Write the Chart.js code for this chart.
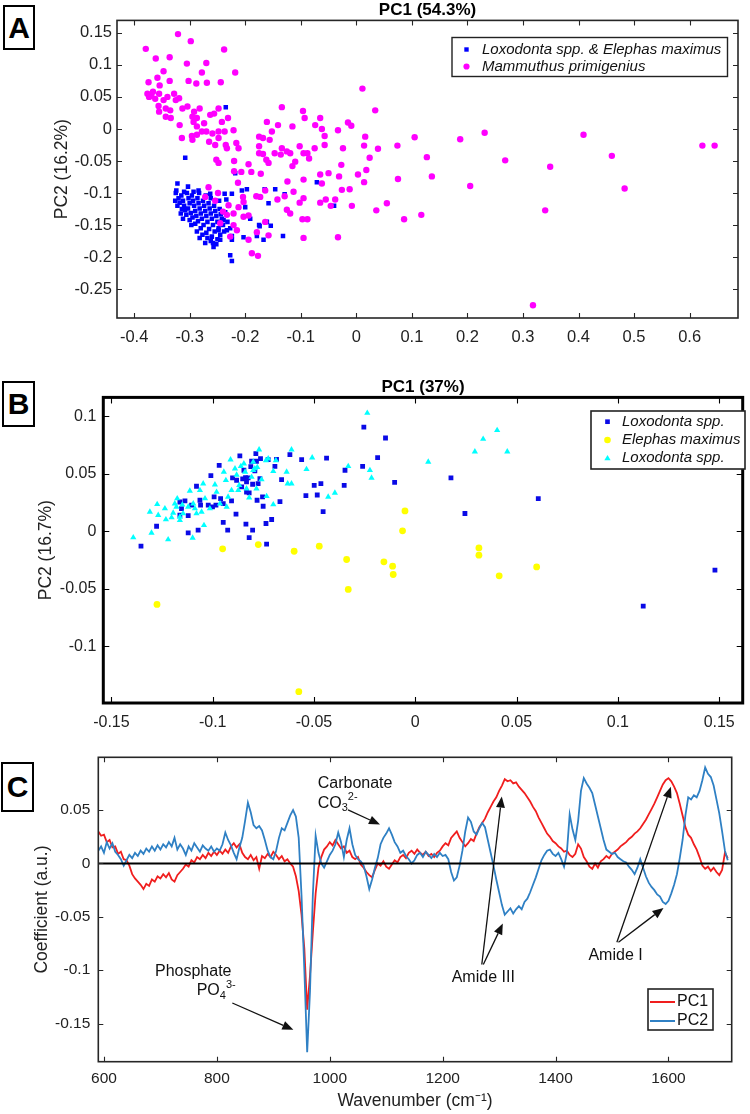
<!DOCTYPE html>
<html><head><meta charset="utf-8">
<script src="https://cdn.jsdelivr.net/npm/chart.js@4.4.1/dist/chart.umd.min.js"></script>
<style>
body{margin:0;background:#fff;width:750px;height:1114px;position:relative;overflow:hidden;font-family:"Liberation Sans",Arial,sans-serif}
canvas{position:absolute;left:0}
.lbl{position:absolute;border:2px solid #000;box-sizing:border-box;font:bold 30px "Liberation Sans",Arial,sans-serif;display:flex;align-items:center;justify-content:center;background:#fff;color:#000}
</style></head><body>
<div class="lbl" style="left:3px;top:5px;width:32px;height:45px">A</div>
<div class="lbl" style="left:2px;top:381px;width:33px;height:46px">B</div>
<div class="lbl" style="left:1px;top:762px;width:33px;height:50px">C</div>
<canvas id="cA" width="750" height="345" style="top:0"></canvas>
<canvas id="cB" width="750" height="359" style="top:376px"></canvas>
<canvas id="cC" width="750" height="374" style="top:740px"></canvas>
<script>
// ---------------- DATA ----------------
// Panel A
const aTitle = 'PC1 (54.3%)';
const aYLabel = 'PC2 (16.2%)';
const aXTicks = [-0.4,-0.3,-0.2,-0.1,0,0.1,0.2,0.3,0.4,0.5,0.6];
const aYTicks = [-0.25,-0.2,-0.15,-0.1,-0.05,0,0.05,0.1,0.15];
const aLoxElephas = [
[-0.325,-0.100],[-0.320,-0.108],[-0.318,-0.115],[-0.322,-0.120],[-0.315,-0.104],[-0.312,-0.112],[-0.310,-0.120],[-0.308,-0.127],[-0.314,-0.125],[-0.305,-0.100],
[-0.302,-0.108],[-0.300,-0.116],[-0.303,-0.124],[-0.298,-0.131],[-0.306,-0.134],[-0.296,-0.104],[-0.294,-0.112],[-0.292,-0.120],[-0.290,-0.128],[-0.295,-0.138],
[-0.288,-0.136],[-0.300,-0.142],[-0.286,-0.108],[-0.284,-0.116],[-0.282,-0.124],[-0.280,-0.132],[-0.285,-0.144],[-0.278,-0.140],[-0.290,-0.148],[-0.276,-0.112],
[-0.274,-0.120],[-0.272,-0.128],[-0.270,-0.136],[-0.275,-0.150],[-0.268,-0.145],[-0.280,-0.155],[-0.266,-0.116],[-0.264,-0.124],[-0.262,-0.132],[-0.260,-0.140],
[-0.265,-0.156],[-0.258,-0.150],[-0.270,-0.162],[-0.256,-0.120],[-0.254,-0.128],[-0.252,-0.136],[-0.250,-0.145],[-0.255,-0.160],[-0.248,-0.155],[-0.260,-0.168],
[-0.246,-0.125],[-0.244,-0.133],[-0.242,-0.140],[-0.245,-0.165],[-0.262,-0.175],[-0.268,-0.170],[-0.250,-0.172],[-0.240,-0.150],[-0.236,-0.130],[-0.238,-0.160],
[-0.310,-0.098],[-0.293,-0.098],[-0.283,-0.100],[-0.271,-0.104],[-0.316,-0.132],[-0.297,-0.150],[-0.287,-0.160],[-0.277,-0.165],[-0.258,-0.178],[-0.232,-0.145],
[-0.230,-0.120],[-0.234,-0.110],[-0.326,-0.112],[-0.312,-0.140],[-0.282,-0.170],[-0.272,-0.178],[-0.252,-0.180],[-0.262,-0.108],[-0.247,-0.112],[-0.303,-0.090],
[-0.308,-0.045],[-0.322,-0.085],[-0.324,-0.096],[-0.284,-0.096],[-0.263,-0.101],[-0.237,-0.101],[-0.224,-0.101],[-0.218,-0.069],[-0.206,-0.096],[-0.197,-0.094],
[-0.200,-0.122],[-0.191,-0.140],[-0.174,-0.152],[-0.161,-0.145],[-0.158,-0.116],[-0.165,-0.094],[-0.146,-0.094],[-0.129,-0.102],[-0.179,-0.167],[-0.167,-0.173],
[-0.132,-0.167],[-0.203,-0.169],[-0.224,-0.167],[-0.224,-0.173],[-0.227,-0.197],[-0.224,-0.206],[-0.227,-0.155],[-0.233,-0.158],[-0.245,-0.173],[-0.257,-0.184],
[-0.239,-0.142],[-0.248,-0.158],[-0.071,-0.083],[-0.235,0.034],[-0.040,-0.120],[-0.154,-0.151],[-0.175,-0.150]
];
const aMammuthus = [
[-0.379,0.125],[-0.321,0.148],[-0.298,0.137],[-0.238,0.124],[-0.361,0.110],[-0.336,0.112],[-0.347,0.090],[-0.305,0.102],[-0.270,0.103],[-0.278,0.088],
[-0.218,0.088],[-0.374,0.073],[-0.358,0.080],[-0.336,0.075],[-0.302,0.075],[-0.269,0.072],[-0.244,0.073],[-0.354,0.068],[-0.366,0.058],[-0.373,0.050],
[-0.376,0.055],[-0.369,0.052],[-0.362,0.047],[-0.355,0.055],[-0.347,0.045],[-0.340,0.050],[-0.356,0.036],[-0.343,0.032],[-0.355,0.027],[-0.335,0.029],
[-0.325,0.045],[-0.319,0.048],[-0.313,0.032],[-0.328,0.055],[-0.288,0.071],[-0.334,0.017],[-0.343,0.019],[-0.318,0.006],[-0.304,0.035],[-0.292,0.027],
[-0.287,0.017],[-0.293,0.011],[-0.295,0.019],[-0.282,0.032],[-0.274,0.009],[-0.263,0.022],[-0.270,-0.004],[-0.248,0.032],[-0.256,0.024],[-0.242,0.011],
[-0.231,0.017],[-0.287,0.004],[-0.278,-0.004],[-0.259,-0.007],[-0.248,-0.004],[-0.237,-0.004],[-0.221,-0.002],[-0.287,-0.009],[-0.295,-0.017],[-0.314,-0.014],
[-0.296,-0.011],[-0.248,-0.014],[-0.235,-0.025],[-0.233,-0.030],[-0.254,-0.025],[-0.265,-0.020],[-0.216,-0.022],[-0.212,-0.030],[-0.252,-0.048],[-0.248,-0.053],
[-0.220,-0.050],[-0.207,-0.067],[-0.220,-0.066],[-0.213,-0.084],[-0.194,-0.055],[-0.189,-0.067],[-0.172,-0.070],[-0.175,-0.027],[-0.168,-0.014],[-0.175,-0.012],
[-0.161,0.011],[-0.152,-0.004],[-0.156,-0.017],[-0.168,-0.039],[-0.162,-0.048],[-0.175,-0.038],[-0.141,0.006],[-0.134,0.034],[-0.147,-0.038],[-0.158,-0.053],
[-0.134,-0.030],[-0.136,-0.040],[-0.125,-0.035],[-0.115,0.004],[-0.119,-0.038],[-0.110,-0.051],[-0.102,-0.027],[-0.096,0.028],[-0.093,0.017],[-0.074,0.006],
[-0.065,0.017],[-0.062,0.000],[-0.057,-0.011],[-0.057,-0.025],[-0.075,-0.030],[-0.088,-0.038],[-0.085,-0.046],[-0.115,-0.058],[-0.095,-0.079],[-0.124,-0.082],
[-0.113,-0.098],[-0.129,-0.105],[-0.142,-0.110],[-0.125,-0.126],[-0.102,-0.115],[-0.097,-0.141],[-0.088,-0.141],[-0.095,-0.170],[-0.065,-0.071],[-0.050,-0.069],
[-0.031,-0.074],[-0.027,-0.056],[-0.065,-0.115],[-0.055,-0.110],[-0.046,-0.120],[-0.026,-0.095],[-0.012,-0.094],[-0.038,-0.110],[-0.008,-0.120],[-0.033,-0.169],
[-0.015,0.010],[-0.009,0.005],[-0.033,-0.002],[-0.024,-0.030],[0.003,-0.071],[0.011,0.063],[0.034,0.029],[0.016,-0.012],[0.014,-0.026],[0.024,-0.045],
[0.039,-0.031],[0.018,-0.064],[0.014,-0.083],[0.036,-0.127],[0.055,-0.116],[0.074,-0.026],[0.075,-0.078],[0.105,-0.013],[0.127,-0.044],[0.136,-0.074],
[0.086,-0.141],[0.117,-0.134],[0.187,-0.016],[0.205,-0.089],[0.231,-0.006],[0.268,-0.049],[0.318,-0.275],[0.340,-0.127],[0.349,-0.059],[0.409,-0.009],
[0.460,-0.042],[0.483,-0.093],[0.623,-0.026],[0.645,-0.026],
[-0.266,-0.091],[-0.272,-0.106],[-0.249,-0.100],[-0.254,-0.112],[-0.245,-0.147],[-0.240,-0.129],[-0.230,-0.119],[-0.233,-0.134],[-0.221,-0.132],[-0.212,-0.122],
[-0.204,-0.106],[-0.203,-0.137],[-0.194,-0.135],[-0.203,-0.114],[-0.180,-0.105],[-0.173,-0.106],[-0.164,-0.096],[-0.095,-0.108],[-0.119,-0.132],[-0.164,-0.145],
[-0.158,-0.166],[-0.179,-0.161],[-0.215,-0.158],[-0.221,-0.150],[-0.227,-0.168],[-0.194,-0.173],[-0.188,-0.194],[-0.177,-0.198],[-0.062,-0.085],[-0.095,-0.038]
];

// Panel B
const bTitle = 'PC1 (37%)';
const bYLabel = 'PC2 (16.7%)';
const bXTicks = [-0.15,-0.1,-0.05,0,0.05,0.1,0.15];
const bYTicks = [-0.1,-0.05,0,0.05,0.1];
const bLoxodontaA = [
[-0.1354,-0.0130],[-0.1277,0.0043],[-0.1121,-0.0015],[-0.1072,0.0009],[-0.1162,0.0139],[-0.1121,0.0136],[-0.1154,0.0197],[-0.1162,0.0254],[-0.1137,0.0263],[-0.1104,0.0226],
[-0.1080,0.0391],[-0.1063,0.0269],[-0.1060,0.0226],[-0.1022,0.0226],[-0.1009,0.0483],[-0.0993,0.0298],[-0.1001,0.0211],[-0.0984,0.0226],[-0.0968,0.0573],[-0.0961,0.0284],
[-0.0948,0.0076],[-0.0926,0.0009],[-0.0948,0.0240],[-0.0907,0.0263],[-0.0902,0.0463],[-0.0885,0.0148],[-0.0882,0.0443],[-0.0866,0.0654],[-0.0857,0.0385],[-0.0846,0.0530],
[-0.0838,0.0466],[-0.0833,0.0341],[-0.0820,0.0333],[-0.0825,0.0463],[-0.0836,0.0061],[-0.0820,-0.0055],[-0.0803,0.0009],[-0.0808,0.0608],[-0.0787,0.0674],[-0.0784,0.0608],
[-0.0781,0.0269],[-0.0776,0.0414],[-0.0767,0.0457],[-0.0764,0.0631],[-0.0754,0.0298],[-0.0751,0.0217],[-0.0737,0.0067],[-0.0734,-0.0113],[-0.0726,0.0622],[-0.0709,0.0102],
[-0.0693,0.0564],[-0.0685,0.0625],[-0.0668,0.0258],[-0.0660,0.0449],[-0.0619,0.0666],[-0.0561,0.0622],[-0.0540,0.0310],[-0.0499,0.0399],[-0.0484,0.0315],[-0.0466,0.0414],
[-0.0455,0.0171],[-0.0438,0.0636],[-0.0351,0.0399],[-0.0347,0.0530],[-0.0260,0.0564],[-0.0254,0.0905],[-0.0186,0.0640],[-0.0147,0.0810],[-0.0102,0.0425],[-0.0852,0.0455],
[-0.0833,0.0428],[-0.0803,0.0408],[-0.0792,0.0524],[-0.0812,0.0561],[0.0176,0.0463],[0.0245,0.0154],[0.0607,0.0284],[0.1125,-0.0651],[0.1479,-0.0339]
];
const bElephas = [
[-0.1275,-0.0636],[-0.0951,-0.0153],[-0.0775,-0.0116],[-0.0598,-0.0174],[-0.0575,-0.1395],[-0.0474,-0.0130],[-0.0339,-0.0246],[-0.0331,-0.0506],[-0.0155,-0.0266],[-0.0112,-0.0304],
[-0.0109,-0.0376],[-0.0063,0.0003],[-0.0051,0.0176],[0.0314,-0.0145],[0.0314,-0.0208],[0.0414,-0.0388],[0.0599,-0.0310]
];
const bLoxodontaB = [
[-0.1392,-0.0055],[-0.1302,-0.0015],[-0.1220,-0.0072],[-0.1099,-0.0058],[-0.1310,0.0168],[-0.1269,0.0139],[-0.1274,0.0234],[-0.1236,0.0197],[-0.1231,0.0102],[-0.1187,0.0240],
[-0.1195,0.0159],[-0.1175,0.0284],[-0.1150,0.0230],[-0.1146,0.0154],[-0.1162,0.0095],[-0.1113,0.0350],[-0.1096,0.0240],[-0.1080,0.0154],[-0.1063,0.0356],[-0.1038,0.0284],
[-0.1047,0.0414],[-0.1043,0.0052],[-0.1014,0.0197],[-0.0989,0.0405],[-0.0981,0.0341],[-0.0964,0.0240],[-0.0945,0.0515],[-0.0935,0.0443],[-0.0931,0.0211],[-0.0912,0.0622],
[-0.0907,0.0356],[-0.0890,0.0544],[-0.0882,0.0490],[-0.0869,0.0399],[-0.0861,0.0564],[-0.0846,0.0587],[-0.0840,0.0515],[-0.0833,0.0370],[-0.0820,0.0292],[-0.0808,0.0471],
[-0.0800,0.0530],[-0.0792,0.0545],[-0.0784,0.0370],[-0.0771,0.0709],[-0.0759,0.0449],[-0.0737,0.0616],[-0.0734,0.0304],[-0.0701,0.0521],[-0.0701,0.0232],[-0.0688,0.0616],
[-0.0635,0.0515],[-0.0630,0.0414],[-0.0611,0.0709],[-0.0611,0.0414],[-0.0537,0.0538],[-0.0509,0.0640],[-0.0430,0.0298],[-0.0397,0.0333],[-0.0331,0.0564],[-0.0237,0.1027],
[-0.0224,0.0530],[-0.0216,0.0463],[0.0064,0.0602],[0.0294,0.0692],[0.0335,0.0801],[0.0404,0.0877],[0.0454,0.0692],[-0.1179,0.0211],[-0.1121,0.0211],[-0.1088,0.0197],
[-0.1055,0.0168],[-0.1162,0.0124],[-0.1203,0.0119],[-0.0874,0.0356],[-0.0924,0.0298],[-0.0800,0.0602],[-0.0780,0.0556],[-0.0726,0.0631]
];

// Panel C
const cXLabel = 'Wavenumber (cm\u207B\u00B9)';
const cYLabel = 'Coefficient (a.u.)';
const cXTicks = [600,800,1000,1200,1400,1600];
const cYTicks = [-0.15,-0.1,-0.05,0,0.05];
const cWaves = [
590,595,600,605,610,615,620,625,630,635,
640,645,650,655,660,665,670,675,680,685,
690,695,700,705,710,715,720,725,730,735,
740,745,750,755,760,765,770,775,780,785,
790,795,800,805,810,815,820,825,830,835,
840,845,850,855,860,865,870,875,880,885,
890,895,900,905,910,915,920,925,930,935,
940,945,950,955,960,965,970,975,980,985,
990,995,1000,1005,1010,1015,1020,1025,1030,1035,
1040,1045,1050,1055,1060,1065,1070,1075,1080,1085,
1090,1095,1100,1105,1110,1115,1120,1125,1130,1135,
1140,1145,1150,1155,1160,1165,1170,1175,1180,1185,
1190,1195,1200,1205,1210,1215,1220,1225,1230,1235,
1240,1245,1250,1255,1260,1265,1270,1275,1280,1285,
1290,1295,1300,1305,1310,1315,1320,1325,1330,1335,
1340,1345,1350,1355,1360,1365,1370,1375,1380,1385,
1390,1395,1400,1405,1410,1415,1420,1425,1430,1435,
1440,1445,1450,1455,1460,1465,1470,1475,1480,1485,
1490,1495,1500,1505,1510,1515,1520,1525,1530,1535,
1540,1545,1550,1555,1560,1565,1570,1575,1580,1585,
1590,1595,1600,1605,1610,1615,1620,1625,1630,1635,
1640,1645,1650,1655,1660,1665,1670,1675,1680,1685,
1690,1695,1700,1705
];
const cPC1 = [
0.030,0.026,0.027,0.020,0.022,0.015,0.016,0.009,0.011,0.004,
0.003,-0.002,-0.010,-0.014,-0.017,-0.020,-0.024,-0.019,-0.021,-0.015,
-0.017,-0.012,-0.014,-0.010,-0.013,-0.009,-0.015,-0.017,-0.011,-0.008,
-0.005,-0.001,-0.003,0.003,0.001,0.006,0.004,0.008,0.005,0.010,
0.007,0.011,0.008,0.012,0.009,0.013,0.010,0.016,0.019,0.015,
0.018,0.010,0.006,0.004,0.008,0.003,0.006,-0.005,0.007,0.005,
0.009,0.006,0.011,0.008,0.004,0.007,0.002,0.004,0.000,-0.003,
-0.012,-0.026,-0.048,-0.080,-0.137,-0.105,-0.065,-0.028,-0.004,0.006,
0.013,0.016,0.020,0.017,0.022,0.018,0.014,0.016,0.010,0.012,
0.006,0.004,0.006,-0.001,-0.004,-0.008,-0.011,-0.013,-0.006,0.000,
-0.002,0.002,-0.003,-0.005,-0.001,0.003,0.001,0.006,0.008,0.005,
0.010,0.012,0.009,0.013,0.010,0.008,0.011,0.007,0.009,0.006,
0.010,0.012,0.016,0.019,0.017,0.024,0.027,0.030,0.024,0.020,
0.016,0.019,0.023,0.021,0.028,0.034,0.038,0.042,0.048,0.053,
0.058,0.062,0.068,0.073,0.079,0.077,0.078,0.075,0.076,0.072,
0.069,0.066,0.062,0.058,0.053,0.049,0.043,0.038,0.033,0.028,
0.025,0.021,0.019,0.016,0.014,0.011,0.012,0.008,0.006,0.009,
0.018,0.014,0.006,0.002,-0.003,-0.005,0.000,-0.004,0.002,0.004,
0.007,0.005,0.009,0.011,0.013,0.016,0.018,0.020,0.023,0.025,
0.028,0.030,0.033,0.037,0.041,0.046,0.051,0.056,0.062,0.068,
0.074,0.078,0.080,0.077,0.072,0.066,0.056,0.045,0.034,0.027,
0.024,0.018,0.013,0.006,-0.002,-0.005,-0.003,-0.007,-0.004,-0.008,
-0.011,-0.006,0.010,0.005
];
const cPC2 = [
0.012,0.016,0.010,0.020,0.014,0.019,0.011,0.008,0.004,-0.002,
0.003,0.008,0.005,0.010,0.007,0.012,0.009,0.014,0.011,0.016,
0.012,0.017,0.013,0.018,0.015,0.020,0.016,0.024,0.013,0.018,
0.014,0.008,0.016,0.012,0.019,0.015,0.011,0.017,0.014,0.012,
0.016,0.011,0.014,0.012,0.018,0.029,0.022,0.017,0.010,0.004,
0.015,0.024,0.040,0.057,0.048,0.036,0.033,0.035,0.031,0.022,
0.012,0.006,0.004,0.012,0.024,0.033,0.031,0.038,0.045,0.050,
0.044,0.024,-0.030,-0.100,-0.177,-0.120,-0.030,0.026,0.010,0.000,
-0.004,0.002,0.008,0.012,0.018,0.029,0.020,0.006,0.022,0.033,
0.018,0.008,0.004,0.002,-0.002,-0.012,-0.024,-0.015,-0.004,0.005,
0.018,0.024,0.028,0.033,0.027,0.020,0.016,0.010,0.012,0.007,
0.004,0.000,0.003,0.008,0.010,0.006,0.011,0.008,0.005,0.009,
0.006,0.010,0.007,0.008,0.004,-0.008,-0.016,-0.013,-0.002,0.012,
0.030,0.043,0.039,0.030,0.027,0.033,0.038,0.034,0.022,0.010,
-0.002,-0.015,-0.027,-0.039,-0.048,-0.045,-0.042,-0.047,-0.043,-0.040,
-0.043,-0.036,-0.033,-0.027,-0.020,-0.013,-0.005,0.003,0.008,0.012,
0.013,0.009,0.007,0.010,0.004,-0.003,0.010,0.046,0.032,0.022,
0.040,0.068,0.080,0.075,0.071,0.066,0.055,0.044,0.033,0.022,
0.013,0.011,0.009,0.010,0.006,0.004,0.002,0.001,-0.003,-0.006,
-0.010,-0.004,0.004,-0.004,-0.012,-0.018,-0.022,-0.025,-0.029,-0.031,
-0.036,-0.038,-0.035,-0.028,-0.020,-0.010,0.005,0.022,0.045,0.062,
0.060,0.064,0.062,0.068,0.078,0.090,0.084,0.081,0.073,0.060,
0.047,0.030,0.012,0.003
];
// annotation texts: [wavenumber, coefficient, pieces]
const cNotes = [
  [978.7, 0.075, [['Carbonate',0]]],
  [978.7, 0.0565, [['CO',0],['3',-1],['2-',1]]],
  [690.4, -0.1016, [['Phosphate',0]]],
  [764.3, -0.1194, [['PO',0],['4',-1],['3-',1]]],
  [1216, -0.1071, [['Amide III',0]]],
  [1458.2, -0.0861, [['Amide I',0]]]
];
const cArrows = [
  [1032.4, 0.0503, 1089, 0.0364],
  [827.4, -0.1308, 935.5, -0.1558],
  [1269.3, -0.0947, 1304.7, 0.0627],
  [1272, -0.0947, 1306.6, -0.0562],
  [1508.6, -0.0738, 1604.3, 0.0719],
  [1511.4, -0.0738, 1591.2, -0.0417]
];

// ---------------- RENDER ----------------
const FONT = "'Liberation Sans', Arial, Helvetica, sans-serif";
Chart.defaults.font.family = FONT;
Chart.defaults.color = '#222';

const toXY = arr => arr.map(p => ({x: p[0], y: p[1]}));
const fmt = v => String(v);

function xAxis(min, max, ticks, size, pad, height, title) {
  return {
    type: 'linear', position: 'bottom', min, max,
    grid: {display: false, drawTicks: false}, border: {display: false},
    afterBuildTicks: s => { s.ticks = ticks.map(v => ({value: v})); },
    afterFit: s => { s.height = height; },
    ticks: {autoSkip: false, maxRotation: 0, minRotation: 0, padding: pad, font: {size}, color: '#222', callback: fmt},
    title: title ? {display: true, text: title.text, color: '#222', font: {size: title.size}, padding: {top: 0, bottom: title.pb}} : {display: false}
  };
}
function yAxis(min, max, ticks, size, pad, width, title) {
  return {
    type: 'linear', position: 'left', min, max,
    grid: {display: false, drawTicks: false}, border: {display: false},
    afterBuildTicks: s => { s.ticks = ticks.map(v => ({value: v})); },
    afterFit: s => { s.width = width; },
    ticks: {autoSkip: false, padding: pad, font: {size}, color: '#222', callback: fmt},
    title: {display: true, text: title.text, color: '#222', font: {size: title.size}, padding: {top: title.pt, bottom: 0}}
  };
}

const framePlugin = {
  id: 'frame',
  afterDatasetsDraw(chart, args, o) {
    const {ctx, chartArea: a, scales: {x, y}} = chart;
    ctx.save();
    if (o.zero) {
      const py = y.getPixelForValue(0);
      ctx.strokeStyle = '#000'; ctx.lineWidth = 2;
      ctx.beginPath(); ctx.moveTo(a.left, py); ctx.lineTo(a.right, py); ctx.stroke();
    }
    ctx.strokeStyle = o.color; ctx.lineWidth = 1.1;
    ctx.beginPath();
    const L = o.tick;
    x.ticks.forEach(t => { const px = Math.round(x.getPixelForValue(t.value)) + 0.5;
      ctx.moveTo(px, a.bottom); ctx.lineTo(px, a.bottom - L);
      ctx.moveTo(px, a.top); ctx.lineTo(px, a.top + L); });
    y.ticks.forEach(t => { const py = Math.round(y.getPixelForValue(t.value)) + 0.5;
      ctx.moveTo(a.left, py); ctx.lineTo(a.left + L, py);
      ctx.moveTo(a.right, py); ctx.lineTo(a.right - L, py); });
    ctx.stroke();
    ctx.lineWidth = o.width;
    ctx.strokeRect(a.left, a.top, a.right - a.left, a.bottom - a.top);
    ctx.restore();
  }
};

function marker(ctx, style, color, x, y, r) {
  ctx.fillStyle = color;
  ctx.beginPath();
  if (style === 'rect') { const s = Math.SQRT1_2 * r; ctx.rect(x - s, y - s, 2 * s, 2 * s); }
  else if (style === 'triangle') { ctx.moveTo(x, y - r); ctx.lineTo(x + r * 0.95, y + r * 0.6); ctx.lineTo(x - r * 0.95, y + r * 0.6); ctx.closePath(); }
  else { ctx.arc(x, y, r, 0, Math.PI * 2); }
  ctx.fill();
}

const boxLegend = {
  id: 'boxLegend',
  afterDraw(chart, args, o) {
    const ctx = chart.ctx;
    ctx.save();
    const [bx, by, bw, bh] = o.box;
    ctx.fillStyle = '#fff'; ctx.fillRect(bx, by, bw, bh);
    ctx.strokeStyle = '#222'; ctx.lineWidth = o.lw; ctx.strokeRect(bx, by, bw, bh);
    ctx.textBaseline = 'middle'; ctx.textAlign = 'left';
    o.items.forEach((idx, i) => {
      const ds = chart.data.datasets[idx];
      const yy = o.rows[i];
      if (o.lineSample) {
        ctx.strokeStyle = ds.borderColor; ctx.lineWidth = 2;
        ctx.beginPath(); ctx.moveTo(o.markX[0], yy); ctx.lineTo(o.markX[1], yy); ctx.stroke();
      } else {
        marker(ctx, ds.pointStyle, ds.backgroundColor, o.markX, yy, o.markR);
      }
      ctx.fillStyle = '#111'; ctx.font = o.font;
      ctx.fillText(ds.label, o.textX, yy);
    });
    ctx.restore();
  }
};

const common = (pad) => ({
  responsive: false, animation: false, devicePixelRatio: 1, events: [],
  layout: {padding: pad}
});

// ---- Panel A ----
new Chart(document.getElementById('cA'), {
  type: 'scatter',
  data: {datasets: [
    {label: 'Loxodonta spp. & Elephas maximus', data: toXY(aLoxElephas), pointStyle: 'rect', pointRadius: 3.2, borderWidth: 0, backgroundColor: '#0000ff', order: 1},
    {label: 'Mammuthus primigenius', data: toXY(aMammuthus), pointStyle: 'circle', pointRadius: 3.2, borderWidth: 0, backgroundColor: '#ff00ff', order: 0}
  ]},
  options: Object.assign(common({left: 0, right: 12, top: 0, bottom: 0}), {
    scales: {
      x: xAxis(-0.4308, 0.6871, aXTicks, 16.5, 10, 27, null),
      y: yAxis(-0.295, 0.1694, aYTicks, 16.5, 5, 117, {text: aYLabel, size: 17.5, pt: 52})
    },
    plugins: {
      legend: {display: false}, tooltip: {enabled: false},
      title: {display: true, text: aTitle, fullSize: false, color: '#000', font: {size: 17, weight: 'bold'}, padding: {top: 0, bottom: 0}},
      frame: {color: '#262626', width: 1.6, tick: 5},
      boxLegend: {box: [452, 37.5, 275.5, 39], lw: 1.4, items: [0, 1], rows: [49.5, 66.5], markX: 466.5, markR: 3.1, textX: 482, font: "italic 15px " + FONT}
    }
  }),
  plugins: [framePlugin, boxLegend]
});

// ---- Panel B ----
new Chart(document.getElementById('cB'), {
  type: 'scatter',
  data: {datasets: [
    {label: 'Loxodonta spp.', data: toXY(bLoxodontaA), pointStyle: 'rect', pointRadius: 3.4, borderWidth: 0, backgroundColor: '#0a0ae6', order: 1},
    {label: 'Elephas maximus', data: toXY(bElephas), pointStyle: 'circle', pointRadius: 3.4, borderWidth: 0, backgroundColor: '#ffff00', order: 2},
    {label: 'Loxodonta spp.', data: toXY(bLoxodontaB), pointStyle: 'triangle', pointRadius: 3.6, borderWidth: 0, backgroundColor: '#00ffff', order: 0}
  ]},
  options: Object.assign(common({left: 0, right: 7.3, top: 1, bottom: 0}), {
    scales: {
      x: xAxis(-0.154, 0.1616, bXTicks, 16, 9.5, 32, null),
      y: yAxis(-0.1493, 0.1163, bYTicks, 16, 7, 103.3, {text: bYLabel, size: 17.5, pt: 36})
    },
    plugins: {
      legend: {display: false}, tooltip: {enabled: false},
      title: {display: true, text: bTitle, fullSize: false, color: '#000', font: {size: 17, weight: 'bold'}, padding: {top: 0, bottom: 0}},
      frame: {color: '#000', width: 3, tick: 6},
      boxLegend: {box: [591, 35, 154, 58], lw: 1.6, items: [0, 1, 2], rows: [45.7, 64, 82.3], markX: 607.5, markR: 3.3, textX: 622, font: "italic 15px " + FONT}
    }
  }),
  plugins: [framePlugin, boxLegend]
});

// ---- Panel C ----
const annotPlugin = {
  id: 'annot',
  afterDatasetsDraw(chart) {
    const {ctx, scales: {x, y}} = chart;
    ctx.save();
    ctx.fillStyle = '#111'; ctx.strokeStyle = '#111';
    ctx.textBaseline = 'middle'; ctx.textAlign = 'left';
    cNotes.forEach(n => {
      let px = x.getPixelForValue(n[0]);
      const py = y.getPixelForValue(n[1]);
      n[2].forEach(([t, s]) => {
        if (s === 0) { ctx.font = '16px ' + FONT; ctx.fillText(t, px, py); px += ctx.measureText(t).width; }
        else { ctx.font = '11px ' + FONT; ctx.fillText(t, px, py + (s < 0 ? 5 : -6)); px += ctx.measureText(t).width; }
      });
    });
    ctx.lineWidth = 1.3;
    cArrows.forEach(a => {
      const x1 = x.getPixelForValue(a[0]), y1 = y.getPixelForValue(a[1]);
      const x2 = x.getPixelForValue(a[2]), y2 = y.getPixelForValue(a[3]);
      const ang = Math.atan2(y2 - y1, x2 - x1);
      const hl = 11, hw = 4.5;
      const bxp = x2 - hl * Math.cos(ang), byp = y2 - hl * Math.sin(ang);
      ctx.beginPath(); ctx.moveTo(x1, y1); ctx.lineTo(bxp, byp); ctx.stroke();
      ctx.beginPath();
      ctx.moveTo(x2, y2);
      ctx.lineTo(bxp + hw * Math.sin(ang), byp - hw * Math.cos(ang));
      ctx.lineTo(bxp - hw * Math.sin(ang), byp + hw * Math.cos(ang));
      ctx.closePath(); ctx.fill();
    });
    ctx.restore();
  }
};

new Chart(document.getElementById('cC'), {
  type: 'line',
  data: {datasets: [
    {label: 'PC1', data: cWaves.map((w, i) => ({x: w, y: cPC1[i]})), borderColor: '#f01e1e', borderWidth: 1.8, pointRadius: 0, tension: 0, fill: false, order: 1},
    {label: 'PC2', data: cWaves.map((w, i) => ({x: w, y: cPC2[i]})), borderColor: '#2f80c4', borderWidth: 1.8, pointRadius: 0, tension: 0, fill: false, order: 0}
  ]},
  options: Object.assign(common({left: 0, right: 18.3, top: 13, bottom: 0}), {
    scales: {
      x: xAxis(590, 1712, cXTicks, 15.5, 8.2, 52.3, {text: cXLabel, size: 17.5, pb: 2.5}),
      y: yAxis(-0.1858, 0.0995, cYTicks, 15.5, 8, 98.3, {text: cYLabel, size: 17.5, pt: 32})
    },
    plugins: {
      legend: {display: false}, tooltip: {enabled: false}, title: {display: false},
      frame: {color: '#262626', width: 1.6, tick: 5, zero: true},
      boxLegend: {box: [648, 249, 65, 41], lw: 1.6, items: [0, 1], rows: [262, 281], markX: [650, 675], textX: 677, font: "16px " + FONT, lineSample: true}
    }
  }),
  plugins: [annotPlugin, framePlugin, boxLegend]
});
</script>
</body></html>
